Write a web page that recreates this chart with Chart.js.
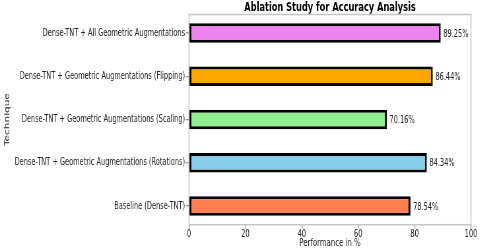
<!DOCTYPE html>
<html>
<head>
<meta charset="utf-8">
<script src="https://cdn.jsdelivr.net/npm/chart.js@4.4.1/dist/chart.umd.min.js"></script>
<style>
  html, body { margin: 0; padding: 0; background: #fff; overflow: hidden; }
  /* the reference is squeezed sideways, so draw wide and squeeze it back */
  #wrap { width: 727px; height: 251px; transform: scaleX(0.66); transform-origin: 0 0; }
</style>
</head>
<body>
<div id="wrap"><canvas id="myChart"></canvas></div>
<script>
const techniques = [
    'Dense-TNT + All Geometric Augmentations',
    'Dense-TNT + Geometric Augmentations (Flipping)',
    'Dense-TNT + Geometric Augmentations (Scaling)',
    'Dense-TNT + Geometric Augmentations (Rotations)',
    'Baseline (Dense-TNT)'
];
const accuracy = [89.25, 86.44, 70.16, 84.34, 78.54];
const barColors = ['#EE82EE', '#FFA500', '#90EE90', '#87CEEB', '#FF7F50'];
const xTicks = [0, 20, 40, 60, 80, 100];

const font = 'DejaVu Sans';

// value text at the end of each bar
const valueLabels = {
    id: 'valueLabels',
    afterDatasetsDraw(chart) {
        const ctx = chart.ctx;
        const meta = chart.getDatasetMeta(0);
        ctx.save();
        ctx.font = '10px "' + font + '"';
        ctx.fillStyle = '#222';
        ctx.textBaseline = 'middle';
        ctx.textAlign = 'left';
        meta.data.forEach((bar, i) => {
            ctx.fillText(accuracy[i].toFixed(2) + '%', bar.x + 4, bar.y + 1);
        });
        ctx.restore();
    }
};

// light grey box round the plot
const frame = {
    id: 'frame',
    beforeDatasetsDraw(chart) {
        const a = chart.chartArea;
        const ctx = chart.ctx;
        ctx.save();
        ctx.strokeStyle = '#c4c4c4';
        ctx.lineWidth = 1.5;
        ctx.strokeRect(a.left, a.top, a.right - a.left, a.bottom - a.top);
        ctx.restore();
    }
};

const ctx = document.getElementById('myChart').getContext('2d');
const myChart = new Chart(ctx, {
    type: 'bar',
    data: {
        datasets: [{
            data: accuracy.map((v, i) => ({ x: v, y: i })),
            backgroundColor: barColors,
            borderColor: '#000',
            borderWidth: 3,
            borderSkipped: false,
            categoryPercentage: 1,
            barPercentage: 0.45
        }]
    },
    options: {
        indexAxis: 'y',
        responsive: true,
        maintainAspectRatio: false,
        animation: false,
        layout: { padding: { left: 0, right: 13.4, top: 0, bottom: 0 } },
        scales: {
            x: {
                type: 'linear',
                min: 0,
                max: 100,
                afterBuildTicks: s => { s.ticks = xTicks.map(v => ({ value: v })); },
                afterFit: s => { s.height = 26.3; },
                grid: { drawOnChartArea: false, tickLength: 4, color: '#999', lineWidth: 1.3 },
                border: { display: false },
                ticks: { padding: 0, color: '#222', font: { family: font, size: 10 } },
                title: {
                    display: true,
                    text: 'Performance in %',
                    color: '#222',
                    font: { family: font, size: 10.5 },
                    padding: { top: 0, bottom: 1 }
                }
            },
            y: {
                type: 'linear',
                reverse: true,
                offset: false,
                min: -0.43,
                max: techniques.length - 1 + 0.43,
                afterBuildTicks: s => { s.ticks = techniques.map((t, i) => ({ value: i })); },
                afterFit: s => { s.width = 286.4; },
                grid: { offset: false, drawOnChartArea: false, tickLength: 5, color: '#999', lineWidth: 1.3 },
                border: { display: false },
                ticks: {
                    padding: 1,
                    color: '#222',
                    font: { family: font, size: 10 },
                    callback: v => techniques[v]
                },
                title: {
                    display: true,
                    text: 'Technique',
                    color: '#222',
                    font: { family: font, size: 10.5 },
                    padding: { top: 5, bottom: 0 }
                }
            }
        },
        plugins: {
            legend: { display: false },
            tooltip: { enabled: false },
            title: {
                display: true,
                text: 'Ablation Study for Accuracy Analysis',
                fullSize: false,
                color: '#000',
                font: { family: font, size: 12.5, weight: 'bold', lineHeight: 1.16 },
                padding: { top: 0, bottom: 0 }
            }
        }
    },
    plugins: [frame, valueLabels]
});
</script>
</body>
</html>
